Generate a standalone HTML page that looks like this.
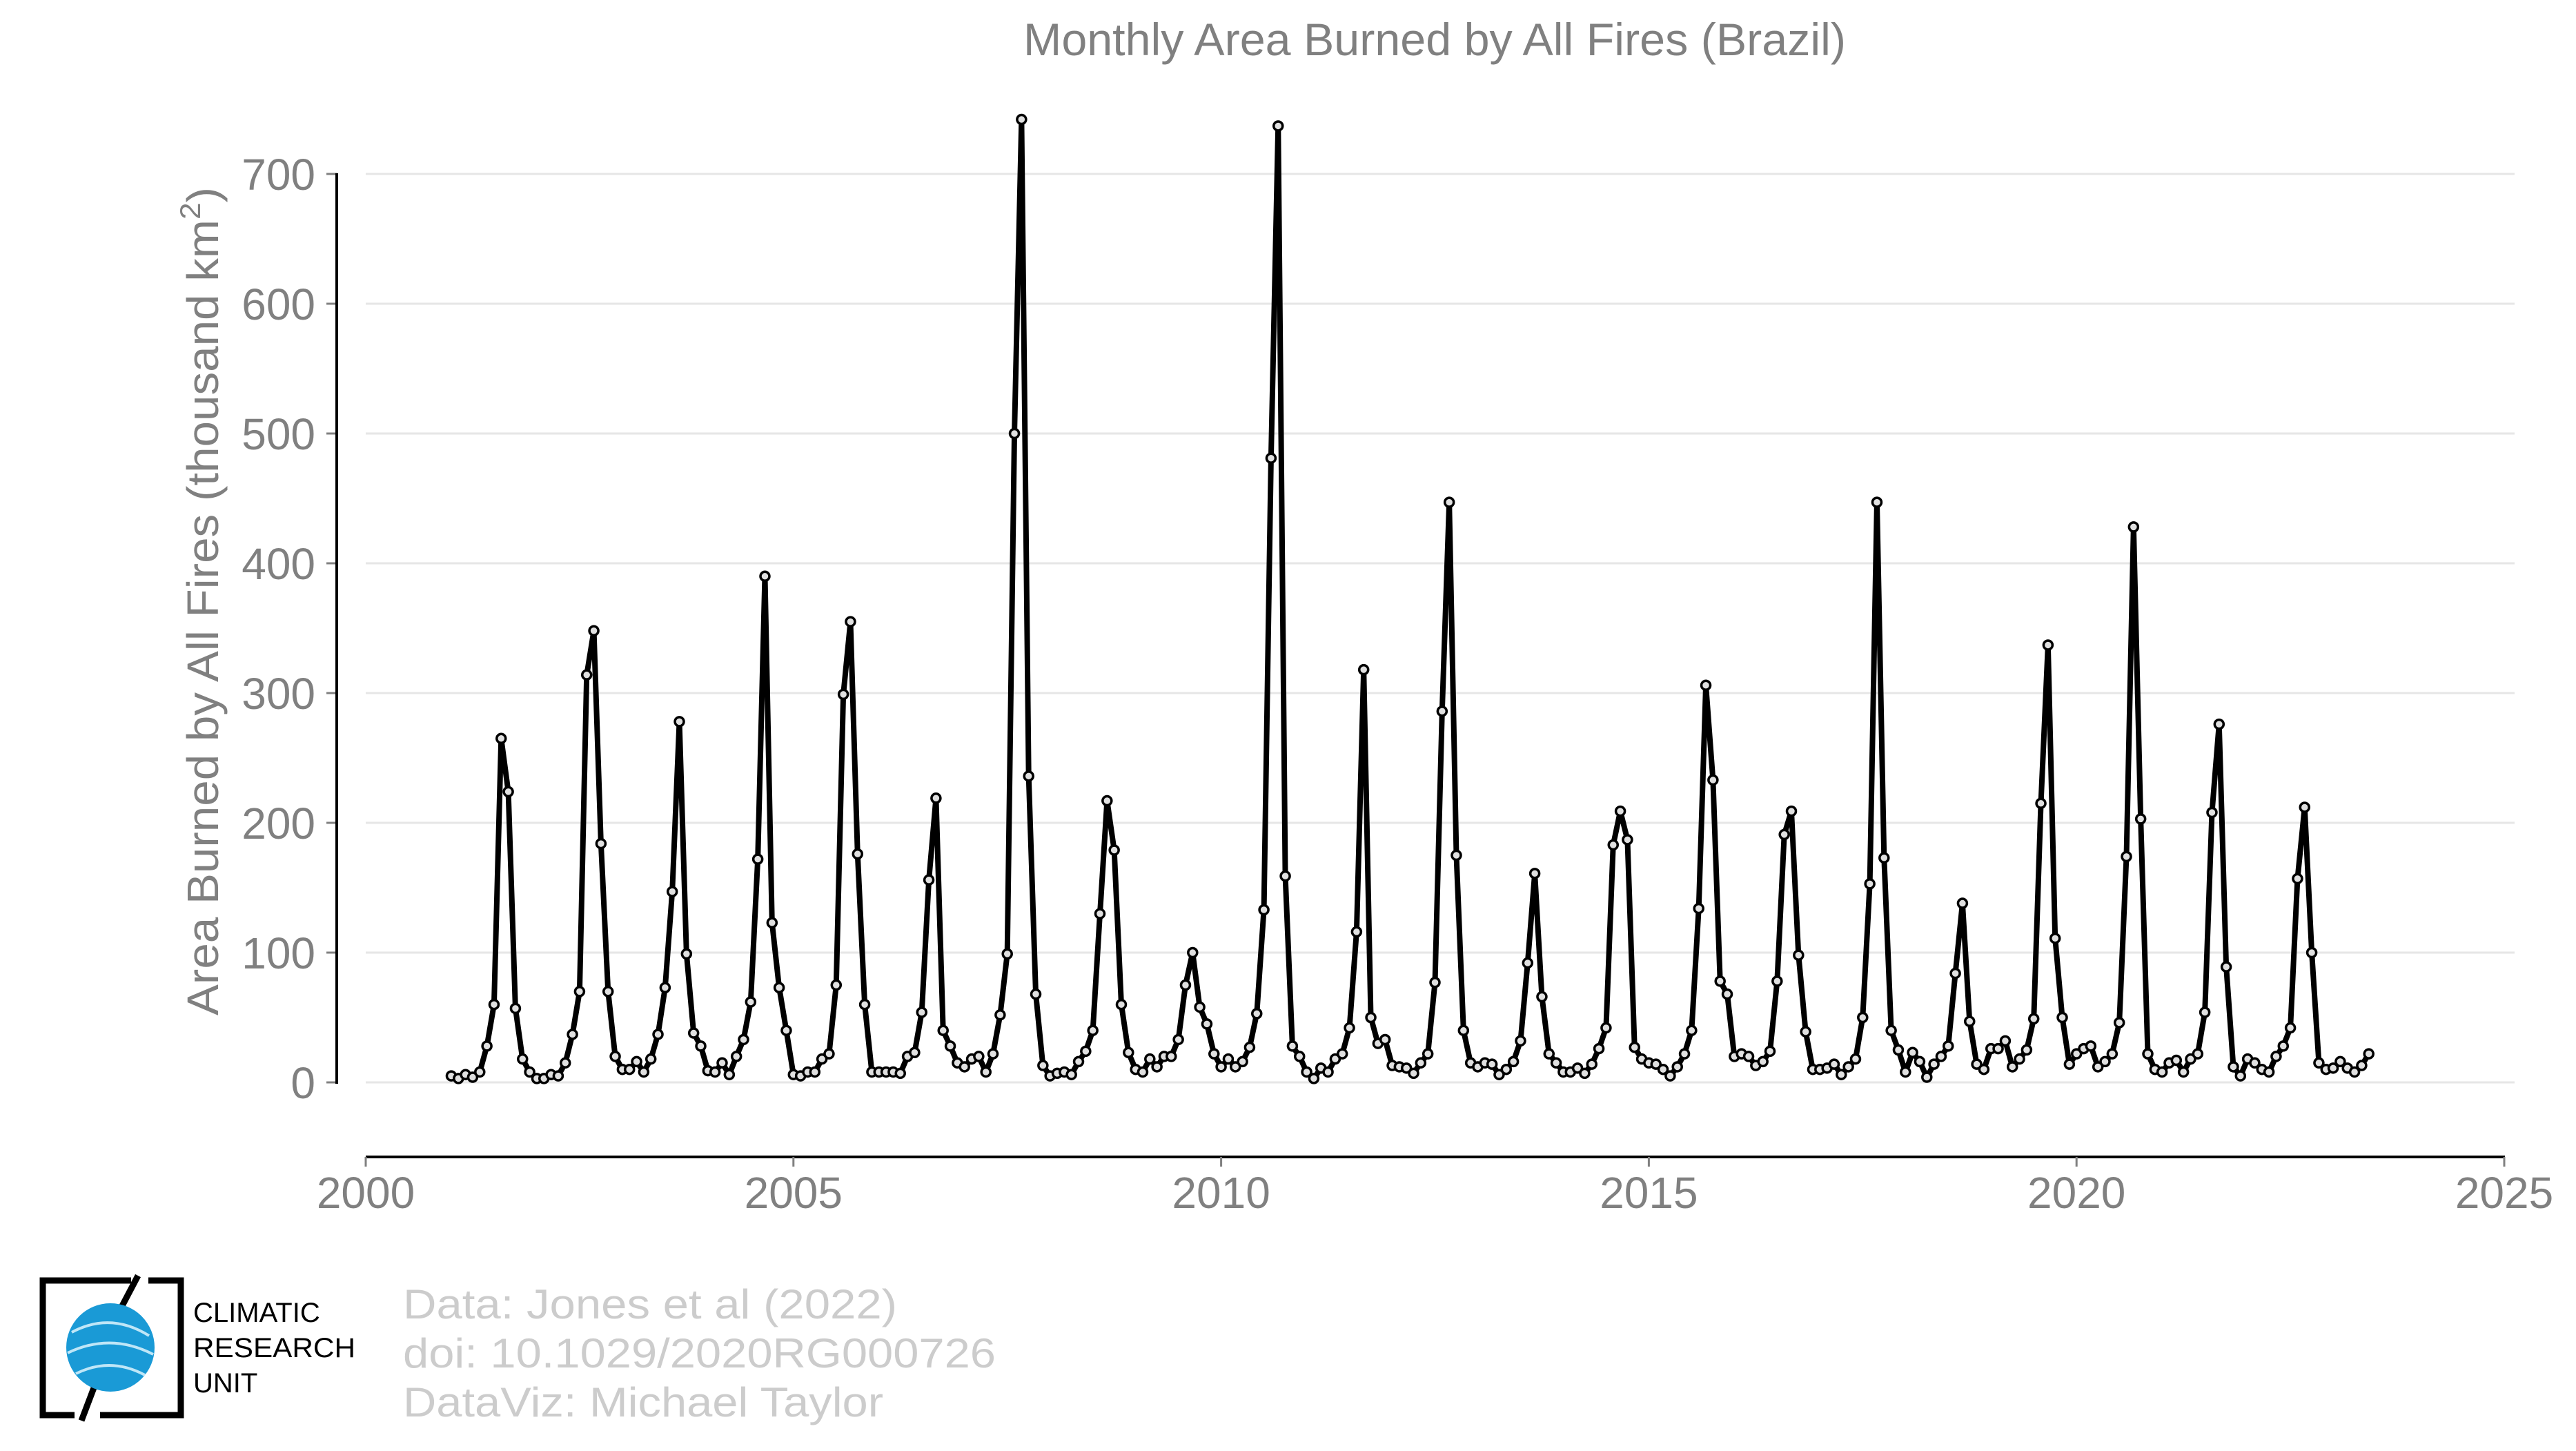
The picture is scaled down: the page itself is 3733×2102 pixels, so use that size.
<!DOCTYPE html>
<html><head><meta charset="utf-8"><style>
html,body{margin:0;padding:0;background:#fff;}
svg{display:block;font-family:"Liberation Sans",sans-serif;}
</style></head><body>
<svg id="chart" width="3733" height="2102" viewBox="0 0 3733 2102" xmlns="http://www.w3.org/2000/svg">
<text x="2079" y="80" font-size="66" fill="#808080" text-anchor="middle" textLength="1192" lengthAdjust="spacingAndGlyphs">Monthly Area Burned by All Fires (Brazil)</text>
<g id="grid"></g>
<g id="yticks"></g>
<text transform="translate(316,871) rotate(-90)" font-size="64" fill="#808080" text-anchor="middle" textLength="1200" lengthAdjust="spacingAndGlyphs">Area Burned by All Fires (thousand km<tspan font-size="42" dy="-26">2</tspan><tspan dy="26">)</tspan></text>
<line x1="488" y1="251" x2="488" y2="1570" stroke="#000" stroke-width="4"/>
<line x1="530" y1="1676" x2="3630" y2="1676" stroke="#000" stroke-width="4"/>
<g id="xticks"></g>
<g id="series"></g>
<g>
<path d="M190,1855 L62,1855 L62,2050 L108,2050 M215,1855 L262,1855 L262,2050 L145,2050" fill="none" stroke="#000" stroke-width="9"/>
<path d="M200,1848 L170,1905 M140,2000 L118,2058" stroke="#000" stroke-width="9"/>
<circle cx="160" cy="1952" r="64" fill="#1a9ad6"/>
<path d="M104,1930 Q160,1900 216,1935 M98,1960 Q160,1930 222,1962 M110,1990 Q160,1965 210,1992" fill="none" stroke="#bfe6f7" stroke-width="4"/>
<text x="280" y="1915" font-size="40" fill="#000">CLIMATIC</text>
<text x="280" y="1966" font-size="40" fill="#000" textLength="235" lengthAdjust="spacingAndGlyphs">RESEARCH</text>
<text x="280" y="2017" font-size="40" fill="#000">UNIT</text>
</g>
<g font-size="60" fill="#cccccc">
<text x="584" y="1910" textLength="716" lengthAdjust="spacingAndGlyphs">Data: Jones et al (2022)</text>
<text x="584" y="1981" textLength="859" lengthAdjust="spacingAndGlyphs">doi: 10.1029/2020RG000726</text>
<text x="584" y="2052" textLength="696" lengthAdjust="spacingAndGlyphs">DataViz: Michael Taylor</text>
</g>
</svg>
<script>
const startYear = 2001;
const yTicks = [0,100,200,300,400,500,600,700];
const xTicks = [2000,2005,2010,2015,2020,2025];
const values = [
5,3,6,4,8,28,60,265,224,57,18,8,
3,3,6,5,15,37,70,314,348,184,70,20,
10,10,16,8,18,37,73,147,278,99,38,28,
9,8,15,6,20,33,62,172,390,123,73,40,
6,5,8,8,18,22,75,299,355,176,60,8,
8,8,8,7,20,23,54,156,219,40,28,15,
12,18,20,8,22,52,99,500,742,236,68,13,
5,7,8,6,16,24,40,130,217,179,60,23,
10,8,18,12,20,20,33,75,100,58,45,22,
12,18,12,16,27,53,133,481,737,159,28,20,
8,3,11,8,18,22,42,116,318,50,30,33,
13,12,11,7,15,22,77,286,447,175,40,15,
12,15,14,6,10,16,32,92,161,66,22,15,
8,8,11,7,14,26,42,183,209,187,27,18,
15,14,10,5,12,22,40,134,306,233,78,68,
20,22,20,13,16,24,78,191,209,98,39,10,
10,11,14,6,12,18,50,153,447,173,40,25,
8,23,16,4,14,20,28,84,138,47,14,10,
26,26,32,12,18,25,49,215,337,111,50,14,
22,26,28,12,16,22,46,174,428,203,22,10,
8,15,17,8,18,22,54,208,276,89,12,5,
18,15,10,8,20,28,42,157,212,100,15,10,
11,16,11,8,13,22
];
const NS="http://www.w3.org/2000/svg";
const X0=530,X1=3629,Y0=1568,Y700=252;
function xs(t){return X0+(t-2000)/25*(X1-X0);}
function ys(v){return Y0-(v/700)*(Y0-Y700);}
function mk(tag,attrs,parent){const e=document.createElementNS(NS,tag);for(const k in attrs)e.setAttribute(k,attrs[k]);parent.appendChild(e);return e;}
const grid=document.getElementById('grid'),yt=document.getElementById('yticks'),xt=document.getElementById('xticks'),ser=document.getElementById('series');
yTicks.forEach(v=>{
 const l=mk('line',{x1:X0,x2:X1+15,y1:ys(v),y2:ys(v),stroke:'#e6e6e6','stroke-width':3},grid);
 
 
 const m=mk('line',{x1:473,x2:488,y1:ys(v),y2:ys(v),stroke:'#808080','stroke-width':3},yt);
 
 
 const t=mk('text',{x:457,y:ys(v)+23,'font-size':64,fill:'#808080','text-anchor':'end'},yt);
 t.textContent=v;
 
 
});
xTicks.forEach(v=>{
 const l=mk('line',{x1:xs(v),x2:xs(v),y1:1676,y2:1690,stroke:'#808080','stroke-width':3},xt);
 
 
 const t=mk('text',{x:xs(v),y:1750,'font-size':64,fill:'#808080','text-anchor':'middle'},xt);
 t.textContent=v;
 
 
});
const pts=values.map((v,i)=>[xs(startYear+i/12),ys(v)]);
const line=mk('polyline',{points:pts.map(p=>p.join(',')).join(' '),fill:'none',stroke:'#000','stroke-width':8,'stroke-linejoin':'round'},ser);


pts.forEach((p,i)=>{
 const c=mk('circle',{cx:p[0],cy:p[1],r:6.5,fill:'#e0e0e0',stroke:'#000','stroke-width':3.5},ser);
 
 
});
</script>
</body></html>
